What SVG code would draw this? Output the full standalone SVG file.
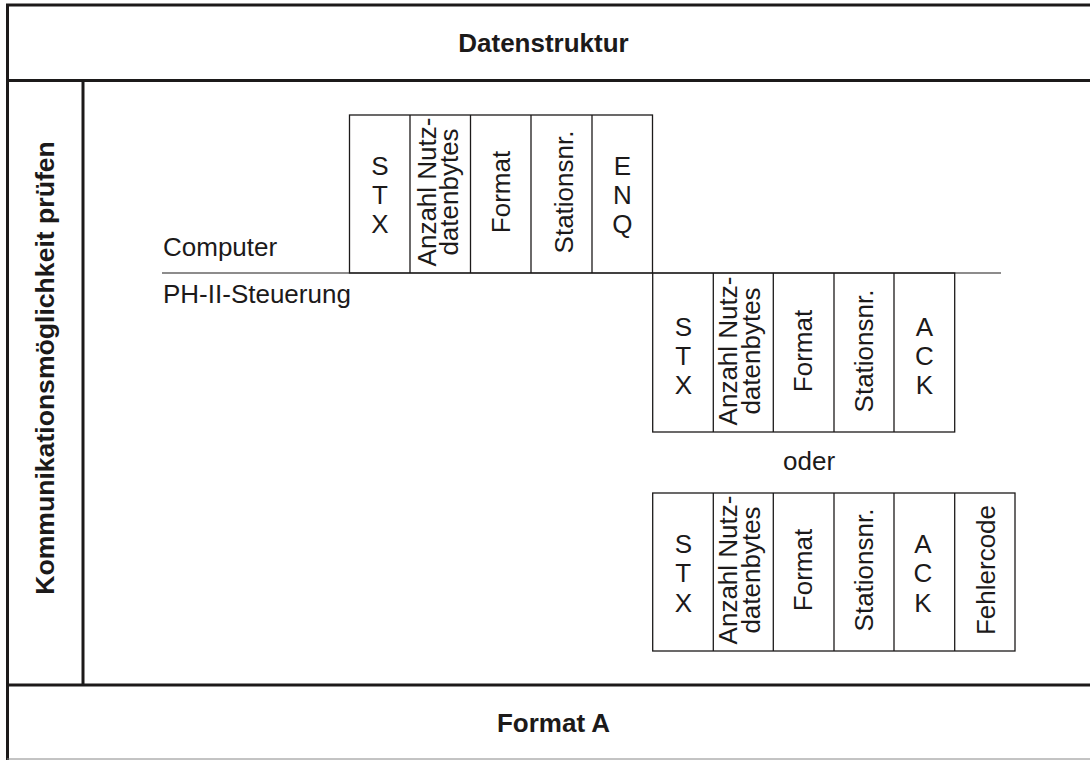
<svg xmlns="http://www.w3.org/2000/svg" width="1090" height="760" viewBox="0 0 1090 760">
<style>
.frame{stroke:#1c1a1a;stroke-width:3;fill:none}
.box{stroke:#1c1a1a;stroke-width:1.3;fill:none}
.rule{stroke:#1c1a1a;stroke-width:1.2;fill:none}
text{font-family:"Liberation Sans",Arial,sans-serif;font-size:26px;fill:#1c1a1a}
.b{font-weight:bold}
.m{text-anchor:middle}
</style>
<rect width="1090" height="760" fill="#fff"/>
<g id="table-frame">
<line class="frame" x1="6" y1="5" x2="1090" y2="5"/>
<line class="frame" x1="7.5" y1="4" x2="7.5" y2="760"/>
<line class="frame" x1="6" y1="80.5" x2="1090" y2="80.5"/>
<line class="frame" x1="83" y1="80" x2="83" y2="685"/>
<line class="frame" x1="6" y1="685" x2="1090" y2="685"/>
<line x1="7" y1="759" x2="1090" y2="759" stroke="#888" stroke-width="1"/>
</g>
<g id="header"><text class="b m" x="543.5" y="52">Datenstruktur</text></g>
<g id="sidebar"><text class="b m" transform="translate(45,368) rotate(-90)" y="9" style="font-size:26.6px">Kommunikationsmöglichkeit prüfen</text></g>
<g id="footer"><text class="b m" x="553.5" y="732">Format A</text></g>
<g id="connectors">
<line class="rule" x1="162" y1="273" x2="1001" y2="273"/>
</g>
<g id="computer-label"><text x="163" y="256">Computer</text></g>
<g id="plc-label"><text x="163" y="303">PH-II-Steuerung</text></g>
<g id="computer-frame">
<rect class="box" x="349.5" y="115" width="303" height="158"/>
<line class="box" x1="410" y1="115" x2="410" y2="273"/>
<line class="box" x1="470.5" y1="115" x2="470.5" y2="273"/>
<line class="box" x1="531" y1="115" x2="531" y2="273"/>
<line class="box" x1="592" y1="115" x2="592" y2="273"/>
<text class="m" x="380" y="175">S</text><text class="m" x="380" y="204">T</text><text class="m" x="380" y="233">X</text>
<text class="m" transform="translate(440.3,192) rotate(-90)"><tspan x="0" y="-4.5">Anzahl Nutz-</tspan><tspan x="0" y="18">datenbytes</tspan></text>
<text class="m" transform="translate(500.7,192) rotate(-90)" y="9.3">Format</text>
<text class="m" transform="translate(561.5,192) rotate(-90)" y="11">Stationsnr.</text>
<text class="m" x="622.3" y="175">E</text><text class="m" x="622.3" y="204">N</text><text class="m" x="622.3" y="233">Q</text>
</g>
<g id="ack-frame">
<rect class="box" x="652.7" y="273" width="302" height="159"/>
<line class="box" x1="713.3" y1="273" x2="713.3" y2="432"/>
<line class="box" x1="773.3" y1="273" x2="773.3" y2="432"/>
<line class="box" x1="834" y1="273" x2="834" y2="432"/>
<line class="box" x1="894" y1="273" x2="894" y2="432"/>
<text class="m" x="683.3" y="336">S</text><text class="m" x="683.3" y="365">T</text><text class="m" x="683.3" y="394">X</text>
<text class="m" transform="translate(743.3,351) rotate(-90)"><tspan x="0" y="-6">Anzahl Nutz-</tspan><tspan x="0" y="16.5">datenbytes</tspan></text>
<text class="m" transform="translate(803.3,351) rotate(-90)" y="8.5">Format</text>
<text class="m" transform="translate(864,351) rotate(-90)" y="9.3">Stationsnr.</text>
<text class="m" x="924.3" y="336">A</text><text class="m" x="924.3" y="365">C</text><text class="m" x="924.3" y="394">K</text>
</g>
<g id="oder-label"><text x="783" y="469.5">oder</text></g>
<g id="error-frame">
<rect class="box" x="652.7" y="493" width="362.3" height="158"/>
<line class="box" x1="713.3" y1="493" x2="713.3" y2="651"/>
<line class="box" x1="773.3" y1="493" x2="773.3" y2="651"/>
<line class="box" x1="834" y1="493" x2="834" y2="651"/>
<line class="box" x1="894" y1="493" x2="894" y2="651"/>
<line class="box" x1="954.7" y1="493" x2="954.7" y2="651"/>
<text class="m" x="683.3" y="552.7">S</text><text class="m" x="683.3" y="581.7">T</text><text class="m" x="683.3" y="611.7">X</text>
<text class="m" transform="translate(743.3,570) rotate(-90)"><tspan x="0" y="-6">Anzahl Nutz-</tspan><tspan x="0" y="16.5">datenbytes</tspan></text>
<text class="m" transform="translate(803.3,570) rotate(-90)" y="8.5">Format</text>
<text class="m" transform="translate(864,570) rotate(-90)" y="9.3">Stationsnr.</text>
<text class="m" x="923" y="552.7">A</text><text class="m" x="923" y="581.7">C</text><text class="m" x="923" y="611.7">K</text>
<text class="m" transform="translate(984.8,570) rotate(-90)" y="10">Fehlercode</text>
</g>
</svg>
